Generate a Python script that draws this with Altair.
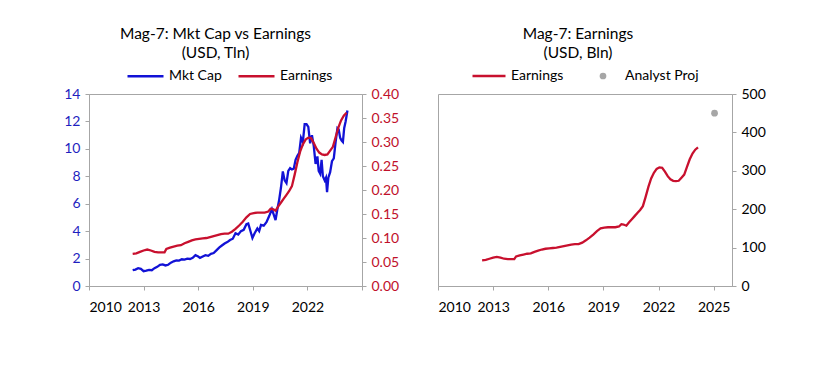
import altair as alt
import pandas as pd

# ---- data ----
mc_years = [2012.40, 2012.55, 2012.70, 2012.85, 2013.00, 2013.15, 2013.30, 2013.45, 2013.60, 2013.75,
            2013.90, 2014.05, 2014.20, 2014.35, 2014.50, 2014.65, 2014.80, 2014.95, 2015.10, 2015.25,
            2015.40, 2015.55, 2015.70, 2015.85, 2016.00, 2016.10, 2016.25, 2016.40, 2016.55, 2016.70,
            2016.85, 2017.00, 2017.15, 2017.30, 2017.45, 2017.60, 2017.75, 2017.90, 2018.05, 2018.20,
            2018.35, 2018.50, 2018.65, 2018.75, 2018.85, 2018.98, 2019.10, 2019.25, 2019.35, 2019.45,
            2019.60, 2019.75, 2019.90, 2020.05, 2020.15, 2020.25, 2020.35, 2020.45, 2020.55, 2020.65,
            2020.75, 2020.85, 2020.95, 2021.05, 2021.15, 2021.25, 2021.35, 2021.45, 2021.55, 2021.65,
            2021.75, 2021.85, 2021.95, 2022.05, 2022.15, 2022.25, 2022.35, 2022.45, 2022.55, 2022.62,
            2022.70, 2022.78, 2022.85, 2022.95, 2023.02, 2023.08, 2023.15, 2023.25, 2023.35, 2023.45,
            2023.55, 2023.65, 2023.72, 2023.80, 2023.88, 2023.95, 2024.02, 2024.10, 2024.20]
mc_tln = [1.15, 1.20, 1.30, 1.25, 1.08, 1.12, 1.18, 1.15, 1.30, 1.40,
          1.55, 1.58, 1.50, 1.55, 1.70, 1.80, 1.87, 1.85, 1.95, 1.92,
          2.00, 1.97, 2.05, 2.25, 2.15, 2.05, 2.15, 2.25, 2.20, 2.35,
          2.40, 2.60, 2.80, 2.95, 3.10, 3.20, 3.35, 3.45, 3.85, 3.75,
          4.00, 4.10, 4.50, 4.55, 4.10, 3.50, 3.85, 4.20, 4.00, 4.45,
          4.40, 4.65, 5.10, 5.60, 5.20, 4.80, 5.60, 6.30, 7.20, 8.35,
          7.70, 7.50, 8.40, 8.60, 8.50, 8.55, 9.20, 9.50, 9.70, 10.80,
          10.50, 11.80, 11.80, 11.60, 10.40, 11.00, 10.20, 8.90, 9.45, 8.40,
          8.20, 9.20, 8.00, 7.70, 7.90, 6.85, 7.90, 8.30, 9.10, 9.30,
          10.50, 11.50, 11.40, 10.80, 10.60, 10.50, 11.50, 12.00, 12.80]

earn_years = [2012.40, 2012.60, 2012.80, 2013.00, 2013.20, 2013.40, 2013.60, 2013.80, 2014.00, 2014.15,
              2014.25, 2014.45, 2014.65, 2014.85, 2015.05, 2015.25, 2015.45, 2015.65, 2015.85, 2016.05,
              2016.25, 2016.45, 2016.65, 2016.85, 2017.05, 2017.25, 2017.45, 2017.65, 2017.85, 2018.05,
              2018.25, 2018.45, 2018.65, 2018.85, 2019.05, 2019.25, 2019.45, 2019.65, 2019.85, 2019.98,
              2020.10, 2020.25, 2020.40, 2020.55, 2020.70, 2020.85, 2021.00, 2021.15, 2021.30, 2021.45,
              2021.60, 2021.75, 2021.90, 2022.05, 2022.20, 2022.35, 2022.50, 2022.65, 2022.80, 2022.95,
              2023.10, 2023.25, 2023.40, 2023.55, 2023.70, 2023.85, 2024.00, 2024.15]
earn_bln = [67, 68, 71, 74, 76, 74, 71, 70, 70, 70,
            77, 80, 82, 84, 85, 89, 92, 95, 97, 98,
            99, 100, 102, 104, 106, 108, 109, 109, 113, 119,
            126, 134, 143, 150, 152, 153, 153, 153, 155, 161,
            160, 157, 166, 174, 182, 190, 198, 208, 232, 258,
            280, 295, 305, 309, 308, 298, 286, 278, 274, 273,
            274, 282, 290, 310, 330, 345, 355, 361]

proj_years = [2025.05]
proj_bln = [450]

left_y_ticks = [0, 2, 4, 6, 8, 10, 12, 14]
right_y_ticks = [0.0, 0.05, 0.10, 0.15, 0.20, 0.25, 0.30, 0.35, 0.40]
bln_ticks = [0, 100, 200, 300, 400, 500]
left_x_ticks = [2010, 2013, 2016, 2019, 2022, 2025]
right_x_ticks = [2010, 2013, 2016, 2019, 2022, 2025]

BLUE = "#1212d6"
RED = "#c8102e"
BLUE_TXT = "#1f1fbf"
RED_TXT = "#c0102a"
GRAY = "#a6a6a6"
FONT = "Lato"

mc_df = pd.DataFrame({"year": mc_years, "v": mc_tln, "series": "Mkt Cap"})
earn_tln_df = pd.DataFrame({"year": earn_years, "v": [e / 1000 for e in earn_bln], "series": "Earnings"})
earn_bln_df = pd.DataFrame({"year": earn_years, "v": earn_bln, "series": "Earnings"})
proj_df = pd.DataFrame({"year": proj_years, "v": proj_bln, "label": "Analyst Proj"})

# ---- left panel ----
x_left = alt.X("year:Q", scale=alt.Scale(domain=[2010, 2025], nice=False, zero=False),
               axis=alt.Axis(values=left_x_ticks, format="d", title=None,
                             labelExpr="datum.value >= 2025 ? '' : datum.label"))

left_color = alt.Color("series:N",
                       scale=alt.Scale(domain=["Mkt Cap", "Earnings"], range=[BLUE, RED]),
                       legend=alt.Legend(orient="none", legendX=37, legendY=-37.5, direction="horizontal",
                                         title=None, symbolType="stroke", symbolSize=1296,
                                         symbolStrokeWidth=2.5, labelFontSize=14, labelFont=FONT,
                                         columnPadding=11, padding=0, labelOffset=4))

blue = alt.Chart(mc_df).mark_line(strokeWidth=2.3).encode(
    x=x_left,
    y=alt.Y("v:Q", scale=alt.Scale(domain=[0, 14], nice=False),
            axis=alt.Axis(orient="left", values=left_y_ticks, title=None, labelColor=BLUE_TXT,
                          minExtent=30, maxExtent=30)),
    color=left_color,
)
red = alt.Chart(earn_tln_df).mark_line(strokeWidth=2.3).encode(
    x=x_left,
    y=alt.Y("v:Q", scale=alt.Scale(domain=[0, 0.4], nice=False),
            axis=alt.Axis(orient="right", values=right_y_ticks, format=".2f", title=None,
                          labelColor=RED_TXT, minExtent=45, maxExtent=45)),
    color=left_color,
)
left = alt.layer(blue, red).resolve_scale(y="independent").properties(
    width=273, height=192,
    title=alt.Title(["Mag-7: Mkt Cap vs Earnings", "(USD, Tln)"], anchor="middle", offset=-4.5, dx=-10),
)

# ---- right panel ----
x_right = alt.X("year:Q", scale=alt.Scale(domain=[2010, 2026], nice=False, zero=False),
                axis=alt.Axis(values=right_x_ticks, format="d", title=None))
y_right = alt.Y("v:Q", scale=alt.Scale(domain=[0, 500], nice=False),
                axis=alt.Axis(orient="right", values=bln_ticks, title=None, minExtent=40, maxExtent=40))

r_line = alt.Chart(earn_bln_df).mark_line(strokeWidth=2.3).encode(
    x=x_right, y=y_right,
    color=alt.Color("series:N", scale=alt.Scale(domain=["Earnings"], range=[RED]),
                    legend=alt.Legend(orient="none", legendX=33, legendY=-36, title=None,
                                      symbolType="stroke", symbolSize=1089, symbolStrokeWidth=2.5,
                                      labelFontSize=14, labelFont=FONT, padding=0, labelOffset=4)),
)
r_point = alt.Chart(proj_df).mark_circle(size=45, opacity=1).encode(
    x=x_right, y=y_right,
    fill=alt.Fill("label:N", scale=alt.Scale(domain=["Analyst Proj"], range=[GRAY]),
                  legend=alt.Legend(orient="none", legendX=158, legendY=-25, title=None,
                                    symbolType="circle", symbolSize=45, symbolStrokeWidth=0,
                                    labelFontSize=14, labelFont=FONT, padding=0, labelOffset=15)),
)
right = alt.layer(r_line, r_point).properties(
    width=294, height=192,
    title=alt.Title(["Mag-7: Earnings", "(USD, Bln)"], anchor="middle", offset=-3, dx=-7),
)

chart = alt.hconcat(left, right, spacing=29).resolve_scale(
    color="independent", fill="independent", x="independent", y="independent"
).properties(
    padding={"left": 50, "top": 18, "right": 5, "bottom": 5}
).configure_view(
    stroke=GRAY, strokeWidth=1
).configure_axis(
    grid=False, domainColor=GRAY, tickColor=GRAY, tickSize=4, labelFont=FONT, labelFontSize=14,
    labelColor="#000000", labelPadding=5, domainWidth=1
).configure_axisX(
    labelPadding=10
).configure_title(
    font=FONT, fontSize=15.5, fontWeight="normal", color="#000000", lineHeight=19
).configure_legend(
    labelColor="#000000"
)

chart.save("out.html", embed_options={"renderer": "svg", "actions": False})
